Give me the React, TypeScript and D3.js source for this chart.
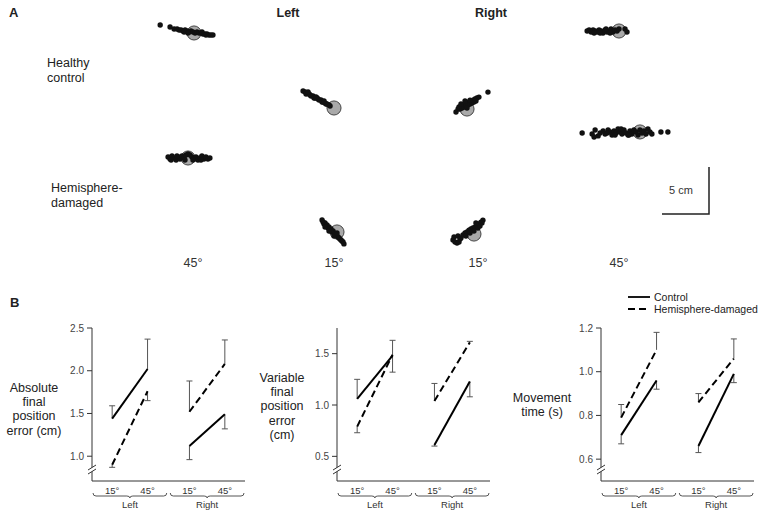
import React from 'react';
import * as d3 from 'd3';

const FONT = '"Liberation Sans", Arial, Helvetica, sans-serif';

// ---------------- Panel A data ----------------
const panelASides = ['Left', 'Right'];
const panelAGroups = [['Healthy', 'control'], ['Hemisphere-', 'damaged']];
const panelAAngles = ['45°', '15°', '15°', '45°'];
const scaleBarCm = 5;

// target centres in workspace cm (x right, y down)
const targetX = [12.13, 27.02, 41.17, 57.34, 11.49, 27.34, 41.91, 59.57];
const targetY = [1.38, 9.36, 9.47, 1.17, 14.68, 22.55, 22.77, 11.91];
const targetRadiusCm = 0.75;

// final positions relative to target (cm, x right, y down)
const hcL45: [number, number][] = [
  [-3.6, -0.85], [-2.55, -0.64], [-2.12, -0.42], [-1.8, -0.42], [-1.59, -0.32], [-1.38, -0.32],
  [-1.17, -0.21], [-0.95, -0.32], [-0.74, -0.21], [-0.53, -0.11], [-0.32, -0.21], [-0.11, -0.11],
  [0.11, 0], [0.32, -0.11], [0.53, 0], [0.74, 0], [0.95, 0.11], [1.17, 0.11], [1.38, 0.11],
  [1.59, 0.21], [1.8, 0.21], [2.01, 0.21], [-1.06, -0.11], [-0.64, 0], [0.85, -0.11], [1.27, 0.21],
];
const hcL15: [number, number][] = [
  [-3.29, -1.8], [-3.07, -1.7], [-2.86, -1.59], [-2.65, -1.48], [-2.44, -1.27], [-2.23, -1.27],
  [-2.01, -1.06], [-1.8, -1.06], [-1.59, -0.85], [-1.38, -0.85], [-1.17, -0.64], [-0.95, -0.53],
  [-0.74, -0.42], [-0.53, -0.32], [-2.97, -1.48], [-2.54, -1.38], [-2.12, -1.06], [-1.7, -0.95],
  [-1.27, -0.64], [-0.85, -0.42], [-0.42, -0.21], [-2.76, -1.7], [-1.91, -1.17], [-1.06, -0.74],
];
const hcR15: [number, number][] = [
  [2.23, -1.8], [-1.17, 0.32], [-0.95, 0], [-0.85, -0.21], [-0.64, -0.32], [-0.42, -0.42],
  [-0.21, -0.53], [0, -0.64], [0.21, -0.74], [0.42, -0.85], [0.64, -0.95], [0.85, -1.06],
  [1.06, -1.17], [1.27, -1.27], [-0.74, 0], [-0.53, -0.11], [-0.32, -0.21], [-0.11, -0.32],
  [0.11, -0.42], [0.32, -0.53], [0.53, -0.64], [0.74, -0.74], [0.95, -0.85], [-0.64, -0.53],
  [-0.21, -0.85], [0.32, -0.95], [0, -0.11],
];
const hcR45: [number, number][] = [
  [-3.39, 0], [-3.18, -0.11], [-2.97, 0.11], [-2.76, -0.11], [-2.54, 0], [-2.33, 0.11],
  [-2.12, -0.11], [-1.91, 0], [-1.7, 0.21], [-1.48, -0.11], [-1.27, 0.11], [-1.06, 0],
  [-0.85, -0.21], [-0.64, 0.11], [-0.42, -0.11], [-0.21, 0], [0, -0.21], [0.85, 0.11],
  [0.64, -0.21], [-2.01, 0.21], [-1.38, -0.21], [-2.65, 0.21], [-0.95, 0.21],
];
const hdL45: [number, number][] = [
  [-2.12, -0.11], [-1.91, 0.11], [-1.7, -0.21], [-1.48, 0], [-1.27, 0.21], [-1.06, -0.11],
  [-0.85, 0.11], [-0.64, -0.21], [-0.42, 0], [-0.21, -0.32], [0, -0.42], [0.21, -0.32],
  [0.42, -0.11], [0.64, 0.11], [0.85, -0.11], [1.06, 0.21], [1.27, 0], [1.48, -0.21],
  [1.7, 0.11], [1.91, -0.11], [2.12, 0.11], [2.33, 0], [-1.8, 0.21], [-1.17, -0.21],
  [0.53, 0.21], [1.38, 0.21], [-0.32, 0.21],
];
const hdL15: [number, number][] = [
  [-1.59, -1.27], [-1.48, -1.06], [-1.38, -0.85], [-1.27, -0.95], [-1.17, -0.64], [-1.06, -0.74],
  [-0.95, -0.42], [-0.85, -0.53], [-0.74, -0.21], [-0.64, -0.32], [-0.53, 0], [-0.42, -0.11],
  [-0.32, 0.11], [-0.21, 0.21], [-0.11, 0.32], [0, 0.42], [0.11, 0.53], [0.21, 0.64],
  [0.32, 0.74], [0.42, 0.85], [0.53, 0.95], [0.64, 1.06], [0.74, 1.27], [-1.27, -0.53],
  [-0.85, -0.11], [-0.32, 0.42], [0, 0.11],
];
const hdR15: [number, number][] = [
  [-2.23, 0.64], [-2.01, 0.85], [-1.8, 0.95], [-1.59, 0.85], [-2.12, 0.32], [-1.7, 0.21],
  [-1.38, 0.42], [-1.17, 0.11], [-0.95, -0.11], [-0.74, -0.21], [-0.53, -0.42], [-0.32, -0.53],
  [-0.11, -0.64], [0.11, -0.74], [0.32, -0.95], [0.53, -1.06], [0.74, -1.27], [0.95, -1.48],
  [0.85, -1.17], [0.42, -0.64], [0, -0.32], [-0.42, -0.11], [-0.85, 0.21], [-1.48, 0.53],
  [0.64, -0.85], [0.21, -1.17],
];
const hdR45: [number, number][] = [
  [-6.15, 0.11], [-5.09, 0.21], [-4.77, -0.21], [-4.45, 0.42], [-4.24, 0.11], [-3.92, -0.11],
  [-3.71, 0.21], [-3.39, -0.21], [-3.18, 0], [-2.97, 0.32], [-2.76, -0.11], [-2.54, 0.11],
  [-2.33, -0.32], [-2.12, 0], [-1.91, 0.21], [-1.7, -0.21], [-1.48, 0.11], [-1.27, 0.32],
  [-1.06, -0.11], [-0.85, 0.21], [-0.64, -0.21], [-0.42, 0], [-0.21, 0.32], [0, -0.21],
  [0.21, 0.11], [0.42, -0.11], [0.64, 0.21], [0.85, -0.32], [1.06, 0], [1.27, 0.21],
  [2.23, 0], [2.97, 0], [-4.88, 0.53], [-3.5, 0.11], [-2.01, -0.32], [-1.17, 0.32], [-2.65, 0.32],
];
const clusters = [hcL45, hcL15, hcR15, hcR45, hdL45, hdL15, hdR15, hdR45];

// ---------------- Panel B data ----------------
const sidesB = ['Left', 'Right'];
const anglesB = ['15°', '45°'];
const legendLabels = ['Control', 'Hemisphere-damaged'];

// order: Left 15°, Left 45°, Right 15°, Right 45°
const absControl = [1.44, 2.02, 1.12, 1.49];
const absControlErr = [0.15, 0.35, -0.16, -0.17];
const absHD = [0.9, 1.76, 1.52, 2.08];
const absHDErr = [-0.03, -0.11, 0.36, 0.28];
const absTicks = [1.0, 1.5, 2.0, 2.5];

const varControl = [1.06, 1.48, 0.61, 1.23];
const varControlErr = [0.19, 0.15, -0.01, -0.15];
const varHD = [0.79, 1.49, 1.04, 1.61];
const varHDErr = [-0.06, -0.17, 0.17, 0.01];
const varTicks = [0.5, 1.0, 1.5];

const mtControl = [0.71, 0.96, 0.66, 0.99];
const mtControlErr = [-0.04, -0.04, -0.03, -0.04];
const mtHD = [0.79, 1.1, 0.86, 1.06];
const mtHDErr = [0.06, 0.08, 0.04, 0.09];
const mtTicks = [0.6, 0.8, 1.0, 1.2];

interface ChartProps {
  x0: number;
  domain: [number, number];
  ticks: number[];
  fmt: string;
  control: number[];
  controlErr: number[];
  hd: number[];
  hdErr: number[];
  title: string[];
  titleX: number;
  titleY: number;
}

const AXIS_W = 153;
const Y_BOTTOM = 481;
const Y_TOP = 328;

function LineChart(p: ChartProps) {
  const y = d3.scaleLinear().domain(p.domain).range([Y_BOTTOM, Y_TOP]);
  const group = d3.scaleBand<string>().domain(sidesB).range([p.x0, p.x0 + AXIS_W]).paddingInner(0.02);
  const inner = d3.scalePoint<string>().domain(anglesB).range([0, group.bandwidth()]).padding(0.57);
  const xAt = (i: number) => (group(sidesB[Math.floor(i / 2)]) as number) + (inner(anglesB[i % 2]) as number);
  const line = d3.line<[number, number]>().x((d) => d[0]).y((d) => d[1]);
  const fmt = d3.format(p.fmt);

  const series = [
    { v: p.control, e: p.controlErr, dash: undefined as string | undefined },
    { v: p.hd, e: p.hdErr, dash: '7,4' },
  ];

  const bracket = (side: string) => {
    const a = (group(side) as number) + 1;
    const b = a + group.bandwidth() - 2;
    const m = (a + b) / 2;
    const yb = 496;
    return `M${a},${yb - 3} Q${a},${yb} ${a + 3},${yb} L${m - 3},${yb} Q${m},${yb} ${m},${yb + 2} Q${m},${yb} ${m + 3},${yb} L${b - 3},${yb} Q${b},${yb} ${b},${yb - 3}`;
  };

  return (
    <g>
      <line x1={p.x0} x2={p.x0} y1={Y_TOP} y2={Y_BOTTOM} stroke="#333" strokeWidth={1} />
      <line x1={p.x0} x2={p.x0 + AXIS_W} y1={Y_BOTTOM} y2={Y_BOTTOM} stroke="#333" strokeWidth={1} />
      <polygon
        points={`${p.x0 - 4},${474} ${p.x0 + 4},${469} ${p.x0 + 4},${465} ${p.x0 - 4},${470}`}
        fill="#fff"
      />
      <line x1={p.x0 - 4} y1={470} x2={p.x0 + 4} y2={465} stroke="#333" strokeWidth={1} />
      <line x1={p.x0 - 4} y1={474} x2={p.x0 + 4} y2={469} stroke="#333" strokeWidth={1} />
      {p.ticks.map((t) => (
        <g key={t}>
          <line x1={p.x0 - 5} x2={p.x0} y1={y(t)} y2={y(t)} stroke="#333" strokeWidth={1} />
          <text x={p.x0 - 8} y={y(t) + 3.5} textAnchor="end" fontSize={10} fill="#444">
            {fmt(t)}
          </text>
        </g>
      ))}
      {[0, 1, 2, 3].map((i) => (
        <text key={i} x={xAt(i)} y={494} textAnchor="middle" fontSize={9.5} fill="#333">
          {anglesB[i % 2]}
        </text>
      ))}
      {sidesB.map((s) => (
        <g key={s}>
          <path d={bracket(s)} fill="none" stroke="#555" strokeWidth={1} />
          <text x={(group(s) as number) + group.bandwidth() / 2} y={508} textAnchor="middle" fontSize={9.5} fill="#333">
            {s}
          </text>
        </g>
      ))}
      {series.map((s, si) =>
        s.v.map((v, i) => {
          const x = xAt(i);
          const ye = y(v + s.e[i]);
          return (
            <g key={`e${si}-${i}`}>
              <line x1={x} x2={x} y1={y(v)} y2={ye} stroke="#555" strokeWidth={1} />
              <line x1={x - 3} x2={x + 3} y1={ye} y2={ye} stroke="#555" strokeWidth={1} />
            </g>
          );
        })
      )}
      {series.map((s, si) =>
        [0, 1].map((g) => (
          <path
            key={`l${si}-${g}`}
            d={line([
              [xAt(g * 2), y(s.v[g * 2])],
              [xAt(g * 2 + 1), y(s.v[g * 2 + 1])],
            ]) as string}
            fill="none"
            stroke="#000"
            strokeWidth={2}
            strokeDasharray={s.dash}
          />
        ))
      )}
      <text x={p.titleX} y={p.titleY} textAnchor="middle" fontSize={12.5} fill="#222">
        {p.title.map((t, i) => (
          <tspan key={i} x={p.titleX} dy={i === 0 ? 0 : 14.4}>
            {t}
          </tspan>
        ))}
      </text>
    </g>
  );
}

export default function App() {
  const cm = d3.scaleLinear().domain([0, 1]).range([0, 9.4]);
  const ox = 80;
  const oy = 20;
  const px = (xcm: number) => ox + cm(xcm);
  const py = (ycm: number) => oy + cm(ycm);

  const rowLabelPos = [
    { x: 47, y: 67 },
    { x: 51, y: 192 },
  ];
  const angleLabelX = [193, 334, 478, 619];
  const sideLabelX = [288, 491];

  const sbX = 709;
  const sbY = 214;

  return (
    <svg
      width={762}
      height={515}
      style={{ position: 'absolute', left: 0, top: 0, background: '#fff' }}
      fontFamily={FONT}
    >
      <rect x={0} y={0} width={762} height={515} fill="#fff" />
      <text x={9} y={17} fontSize={13} fontWeight="bold" fill="#222">A</text>
      {panelASides.map((s, i) => (
        <text key={s} x={sideLabelX[i]} y={17} textAnchor="middle" fontSize={12.5} fontWeight="bold" fill="#222">
          {s}
        </text>
      ))}
      {panelAGroups.map((g, i) => (
        <text key={i} x={rowLabelPos[i].x} y={rowLabelPos[i].y} fontSize={12.5} fill="#222">
          {g.map((t, j) => (
            <tspan key={j} x={rowLabelPos[i].x} dy={j === 0 ? 0 : 15}>
              {t}
            </tspan>
          ))}
        </text>
      ))}
      {panelAAngles.map((a, i) => (
        <text key={i} x={angleLabelX[i]} y={267} textAnchor="middle" fontSize={12.5} fill="#333">
          {a}
        </text>
      ))}
      {clusters.map((pts, ci) => (
        <g key={ci}>
          <circle
            cx={px(targetX[ci])}
            cy={py(targetY[ci])}
            r={cm(targetRadiusCm)}
            fill="#a9a9a9"
            stroke="#444"
            strokeWidth={1}
          />
          {pts.map((d, k) => (
            <circle key={k} cx={px(targetX[ci] + d[0])} cy={py(targetY[ci] + d[1])} r={2.7} fill="#111" />
          ))}
        </g>
      ))}
      <path
        d={`M${sbX},${sbY - cm(scaleBarCm)} L${sbX},${sbY} L${sbX - cm(scaleBarCm)},${sbY}`}
        fill="none"
        stroke="#222"
        strokeWidth={1.5}
      />
      <text x={681} y={194} textAnchor="middle" fontSize={11} fill="#333">
        {`${scaleBarCm} cm`}
      </text>

      <text x={10} y={307} fontSize={13} fontWeight="bold" fill="#222">B</text>
      <LineChart
        x0={92}
        domain={[0.71, 2.5]}
        ticks={absTicks}
        fmt=".1f"
        control={absControl}
        controlErr={absControlErr}
        hd={absHD}
        hdErr={absHDErr}
        title={['Absolute', 'final', 'position', 'error (cm)']}
        titleX={34}
        titleY={391.5}
      />
      <LineChart
        x0={337}
        domain={[0.26, 1.75]}
        ticks={varTicks}
        fmt=".1f"
        control={varControl}
        controlErr={varControlErr}
        hd={varHD}
        hdErr={varHDErr}
        title={['Variable', 'final', 'position', 'error', '(cm)']}
        titleX={282}
        titleY={381.5}
      />
      <LineChart
        x0={601}
        domain={[0.5, 1.2]}
        ticks={mtTicks}
        fmt=".1f"
        control={mtControl}
        controlErr={mtControlErr}
        hd={mtHD}
        hdErr={mtHDErr}
        title={['Movement', 'time (s)']}
        titleX={542}
        titleY={401.5}
      />
      {legendLabels.map((l, i) => (
        <g key={l}>
          <line
            x1={628}
            x2={650}
            y1={297 + i * 12}
            y2={297 + i * 12}
            stroke="#000"
            strokeWidth={1.8}
            strokeDasharray={i === 1 ? '7,4' : undefined}
          />
          <text x={654} y={300.5 + i * 12} fontSize={10.5} fill="#222">
            {l}
          </text>
        </g>
      ))}
    </svg>
  );
}
